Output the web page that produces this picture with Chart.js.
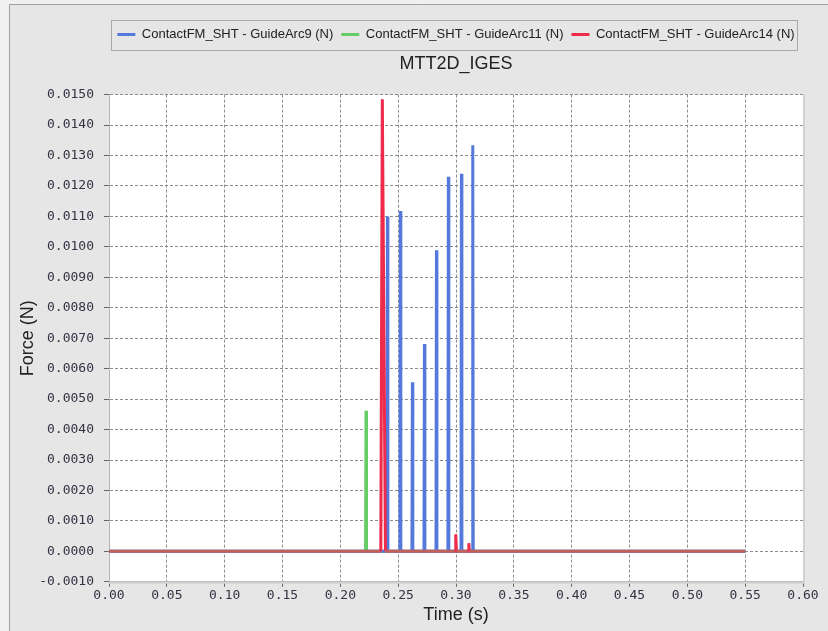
<!DOCTYPE html>
<html>
<head>
<meta charset="utf-8">
<script src="https://cdn.jsdelivr.net/npm/chart.js@4.4.1/dist/chart.umd.min.js"></script>
<style>
  html,body{margin:0;padding:0;background:#f0f0f0;}
  #wrap{position:relative;width:828px;height:631px;}
</style>
</head>
<body>
<div id="wrap"><canvas id="c" width="828" height="631"></canvas></div>
<script>
// --- values (time in s, force in N) ---
const xTicks = [0,0.05,0.10,0.15,0.20,0.25,0.30,0.35,0.40,0.45,0.50,0.55,0.60];

const arc9Time  = [0, 0.2403,0.2407,0.2411, 0.2515,0.2519,0.2523, 0.2619,0.2623,0.2627, 0.2723,0.2727,0.2731,
                   0.2827,0.2831,0.2835, 0.2930,0.2934,0.2938, 0.3043,0.3047,0.3051, 0.3141,0.3145,0.3149, 0.55];
const arc9Force = [0, 0,0.01100,0, 0,0.01118,0, 0,0.00555,0, 0,0.00681,0,
                   0,0.00989,0, 0,0.01230,0, 0,0.01240,0, 0,0.01334,0, 0];

const arc11Time  = [0, 0.2218,0.2222,0.2226, 0.55];
const arc11Force = [0, 0,0.00462,0, 0];

const arc14Time  = [0, 0.2350,0.2363,0.2390, 0.2993,0.2998,0.3004, 0.3106,0.3111,0.3116, 0.55];
const arc14Force = [0, 0,0.01485,0, 0,0.00056,0, 0,0.00027,0, 0];

const seriesNames = ['ContactFM_SHT - GuideArc9 (N)','ContactFM_SHT - GuideArc11 (N)','ContactFM_SHT - GuideArc14 (N)'];

function pts(t,f){return t.map((v,i)=>({x:v,y:f[i]}));}

const frame = {
  id:'frame',
  beforeDraw(chart){
    const {ctx,chartArea:a}=chart;
    ctx.save();
    ctx.fillStyle='#f0f0f0'; ctx.fillRect(0,0,chart.width,chart.height);
    ctx.fillStyle='#e6e6e6'; ctx.fillRect(9,4,chart.width-9,chart.height-4);
    ctx.strokeStyle='#a0a0a0'; ctx.lineWidth=1;
    ctx.beginPath(); ctx.moveTo(9.5,chart.height); ctx.lineTo(9.5,4.5); ctx.lineTo(chart.width,4.5); ctx.stroke();
    ctx.fillStyle='#ffffff'; ctx.fillRect(a.left,a.top,a.right-a.left,a.bottom-a.top);
    ctx.restore();
  },
  afterDraw(chart){
    const {ctx,chartArea:a,legend:l}=chart;
    ctx.save();
    ctx.strokeStyle='#a8a8a8'; ctx.lineWidth=1;
    ctx.strokeRect(Math.round(a.left)+2.5,Math.round(l.top)+0.5,a.right-a.left-8,l.bottom-l.top-1);
    ctx.strokeStyle='#d2d2d2'; ctx.lineWidth=2;
    ctx.beginPath(); ctx.moveTo(a.right+1,a.top); ctx.lineTo(a.right+1,a.bottom+1); ctx.lineTo(a.left,a.bottom+1); ctx.stroke();
    ctx.restore();
  }
};

const tickFont={family:'"DejaVu Sans Mono", monospace',size:13};
const grid={color:'#8c8c8c',lineWidth:1,tickColor:'#666',tickLength:5,drawTicks:true};
const axisFont={family:'"Liberation Sans", Arial, sans-serif',size:18};

new Chart(document.getElementById('c'),{
  type:'scatter',
  data:{datasets:[
    {label:seriesNames[0],data:pts(arc9Time,arc9Force),borderColor:'#5479db',backgroundColor:'#5479db',borderWidth:3,order:2},
    {label:seriesNames[1],data:pts(arc11Time,arc11Force),borderColor:'#66cc66',backgroundColor:'#66cc66',borderWidth:3,order:3},
    {label:seriesNames[2],data:pts(arc14Time,arc14Force),borderColor:'#ee2b4b',backgroundColor:'#ee2b4b',borderWidth:3,order:1,
      segment:{borderColor:c=>(c.p0.parsed.y===0&&c.p1.parsed.y===0)?'#c4605c':undefined}}
  ]},
  options:{
    responsive:false,animation:false,
    showLine:true,
    elements:{line:{borderWidth:3,tension:0},point:{radius:0,hoverRadius:0}},
    layout:{padding:{top:20,right:25,bottom:5,left:0}},
    plugins:{
      tooltip:{enabled:false},
      legend:{position:'top',fullSize:false,weight:3000,
        labels:{usePointStyle:true,pointStyle:'line',pointStyleWidth:18,padding:8,color:'#222',
          font:{family:'"Liberation Sans", Arial, sans-serif',size:13},
          sort:(a,b)=>a.datasetIndex-b.datasetIndex}},
      title:{display:true,text:'MTT2D_IGES',fullSize:false,color:'#222',
        font:{family:'"Liberation Sans", Arial, sans-serif',size:18,weight:'normal'},
        padding:{top:2,bottom:20}}
    },
    scales:{
      x:{type:'linear',min:0,max:0.6,
        afterBuildTicks:s=>{s.ticks=xTicks.map(v=>({value:v}));},
        ticks:{padding:1,color:'#333344',font:tickFont,maxRotation:0,autoSkip:false,callback:v=>v.toFixed(2)},
        grid:grid,
        border:{display:true,color:'#b4b4b4',dash:[3,2]},
        title:{display:true,text:'Time (s)',color:'#222',padding:{top:0,bottom:0},font:axisFont}
      },
      y:{min:-0.001,max:0.015,
        afterFit:s=>{s.width=109;},
        ticks:{stepSize:0.001,padding:10,color:'#333344',font:tickFont,callback:v=>v.toFixed(4)},
        grid:grid,
        border:{display:true,color:'#b4b4b4',dash:[3,2]},
        title:{display:true,text:'Force (N)',color:'#222',padding:{top:17,bottom:0},font:axisFont}
      }
    }
  },
  plugins:[frame]
});
</script>
</body>
</html>
